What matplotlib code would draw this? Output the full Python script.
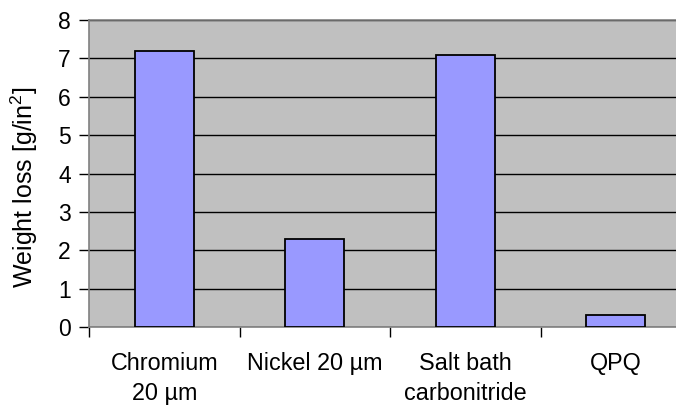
import matplotlib
matplotlib.use('Agg')
import matplotlib.pyplot as plt
import numpy as np

plt.rcParams['font.family'] = ['Liberation Sans', 'DejaVu Sans']
plt.rcParams['mathtext.fontset'] = 'custom'
plt.rcParams['mathtext.rm'] = 'Liberation Sans'
plt.rcParams['mathtext.it'] = 'Liberation Sans'

categories = ['Chromium\n20 µm', 'Nickel 20 µm', 'Salt bath\ncarbonitride', 'QPQ']
weight_loss = [7.2, 2.3, 7.1, 0.3]
y_ticks = [0, 1, 2, 3, 4, 5, 6, 7, 8]

fig = plt.figure(figsize=(6.76, 4.05), dpi=100)
ax = fig.add_axes([0.1317, 0.1926, 0.8905, 0.758])
ax.set_facecolor('#C0C0C0')

x = np.arange(len(categories))
ax.bar(x, weight_loss, width=0.39, color='#9999FF', edgecolor='black',
       linewidth=1.3, zorder=3)

ax.set_ylim(0, 8)
ax.set_yticks(y_ticks)
ax.yaxis.grid(True, color='black', linewidth=1.0, zorder=1)
ax.set_axisbelow(True)

ax.set_xlim(-0.5, len(categories) - 0.5)
# ticks sit between categories, labels sit under the centres
ax.set_xticks(np.arange(len(categories) + 1) - 0.5)
ax.set_xticklabels([])
ax.set_xticks(x, minor=True)
ax.set_xticklabels(categories, minor=True, fontsize=16.8, linespacing=1.4)
ax.tick_params(axis='x', which='minor', length=0, pad=18)
ax.tick_params(axis='x', which='major', length=7, color='black', width=1)
ax.tick_params(axis='y', length=7, color='black', width=1, labelsize=16.5, pad=6)

for side in ['left', 'bottom', 'top', 'right']:
    ax.spines[side].set_color('#808080')
    ax.spines[side].set_linewidth(1.2)

ax.set_ylabel('Weight loss [g/in$^{2}$]', fontsize=18, labelpad=13)
ax.yaxis.label.set_y(0.456)

fig.savefig('out.png', dpi=100)
